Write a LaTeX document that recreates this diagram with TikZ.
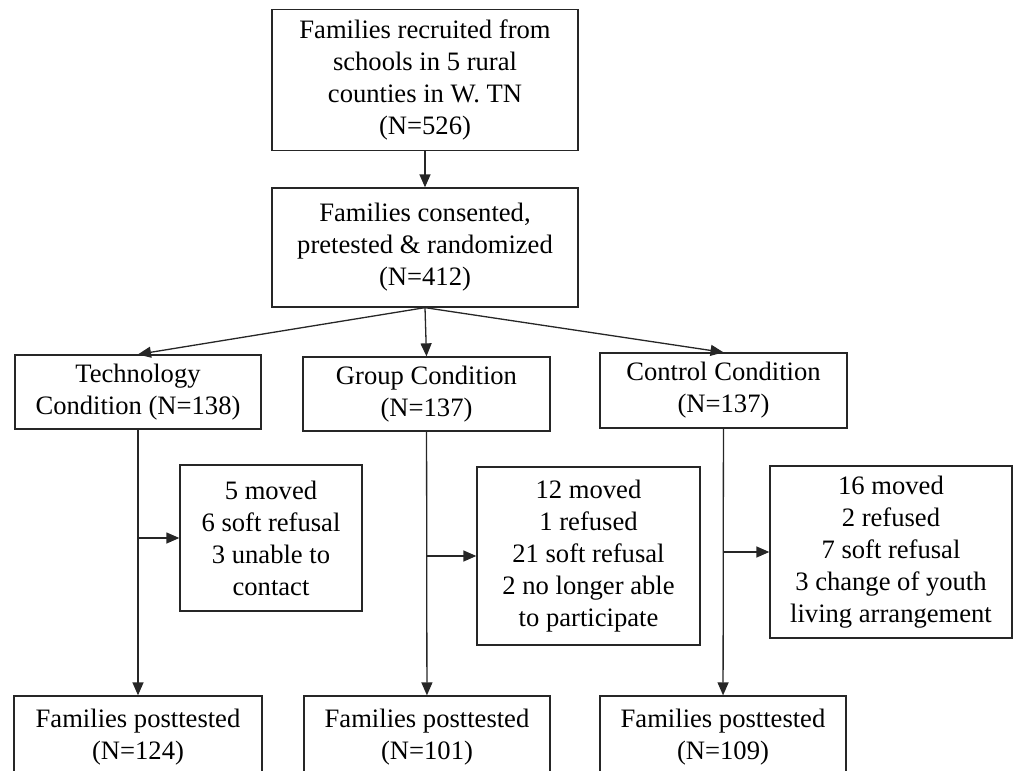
\documentclass[tikz,border=0pt]{standalone}
\usepackage{fontspec}
\setmainfont{Liberation Serif}
\usetikzlibrary{arrows.meta}

\begin{document}
\begin{tikzpicture}[x=0.5pt,y=-0.5pt,
  box/.style={draw=black!85,line width=0.65pt,align=center,inner sep=0pt,
    font=\fontsize{13.3}{16}\selectfont},
  arr/.style={draw=black!85,line width=0.65pt,-{Triangle[length=6.5pt,width=5.5pt]}}]
\useasboundingbox (0,0) rectangle (1014,771);
\clip (0,0) rectangle (1014,771);
\node[box,minimum width=153pt,minimum height=70.5pt] (recruit) at (425,80)
  {Families recruited from\\schools in 5 rural\\counties in W. TN\\(N=526)};
\node[box,minimum width=153pt,minimum height=59.5pt] (consent) at (425,247.5)
  {Families consented,\\pretested \& randomized\\(N=412)};
\node[box,minimum width=123pt,minimum height=37pt] (tech) at (138,392)
  {Technology\\Condition (N=138)};
\node[box,minimum width=123.5pt,minimum height=37pt] (group) at (426.5,394)
  {Group Condition\\(N=137)};
\node[box,minimum width=123.5pt,minimum height=37.5pt] (ctrl) at (723.5,390.5)
  {Control Condition\\(N=137)};
\node[box,minimum width=91pt,minimum height=73pt] (lossT) at (271,538)
  {5 moved\\6 soft refusal\\3 unable to\\contact};
\node[box,minimum width=111.5pt,minimum height=89pt] (lossG) at (588.5,556)
  {12 moved\\1 refused\\21 soft refusal\\2 no longer able\\to participate};
\node[box,minimum width=121pt,minimum height=86pt] (lossC) at (891,552)
  {16 moved\\2 refused\\7 soft refusal\\3 change of youth\\living arrangement};
\node[box,minimum width=124pt,minimum height=41pt] (postT) at (138,737)
  {Families posttested\\(N=124)};
\node[box,minimum width=123pt,minimum height=41pt] (postG) at (427,737)
  {Families posttested\\(N=101)};
\node[box,minimum width=123pt,minimum height=41pt] (postC) at (723,737)
  {Families posttested\\(N=109)};

\draw[arr] (recruit) -- (consent);
\foreach \n in {tech,group,ctrl} {\draw[arr] (consent.south) -- (\n.north);}
\draw[arr] (tech) -- (postT);
\draw[arr] (group) -- (postG);
\draw[arr] (ctrl) -- (postC);
\draw[arr] (lossT.west -| tech.south) -- (lossT.west);
\draw[arr] (lossG.west -| group.south) -- (lossG.west);
\draw[arr] (lossC.west -| ctrl.south) -- (lossC.west);
\end{tikzpicture}
\end{document}
